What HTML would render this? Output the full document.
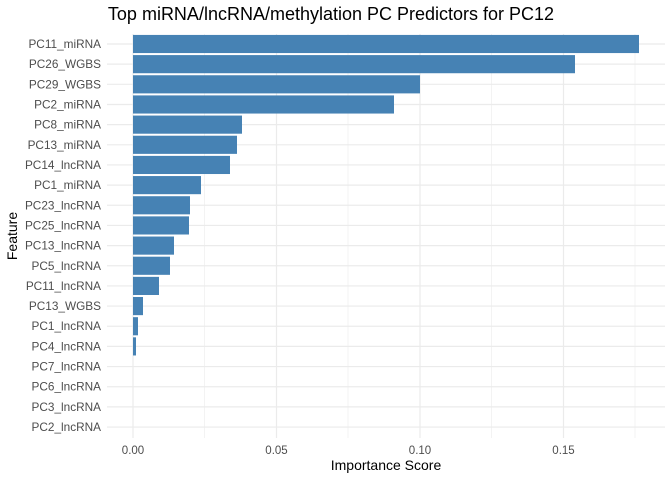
<!DOCTYPE html>
<html><head><meta charset="utf-8"><style>body{margin:0;background:#fff}svg{display:block}</style></head><body>
<svg width="672" height="480" xmlns="http://www.w3.org/2000/svg" font-family="Liberation Sans, sans-serif">
<rect width="672" height="480" fill="#fff"/>
<g stroke="#ebebeb">
<line x1="204.5" y1="34" x2="204.5" y2="438" stroke-width="0.6"/>
<line x1="348" y1="34" x2="348" y2="438" stroke-width="0.6"/>
<line x1="491.5" y1="34" x2="491.5" y2="438" stroke-width="0.6"/>
<line x1="635" y1="34" x2="635" y2="438" stroke-width="0.6"/>
<line x1="133" y1="34" x2="133" y2="438" stroke-width="1.2"/>
<line x1="276.5" y1="34" x2="276.5" y2="438" stroke-width="1.2"/>
<line x1="420" y1="34" x2="420" y2="438" stroke-width="1.2"/>
<line x1="563.5" y1="34" x2="563.5" y2="438" stroke-width="1.2"/>
</g>
<g id="rows" stroke="#ebebeb" stroke-width="1.2"></g>
<g id="bars" fill="#4682b4"></g>
<g id="labels" font-size="11.8" fill="#4d4d4d" text-anchor="end"></g>
<g font-size="11.5" fill="#4d4d4d" text-anchor="middle">
<text x="133" y="454">0.00</text><text x="276.5" y="454">0.05</text><text x="420" y="454">0.10</text><text x="563.5" y="454">0.15</text>
</g>
<text x="386" y="470" font-size="14" text-anchor="middle" fill="#000">Importance Score</text>
<text x="17" y="236" font-size="14" text-anchor="middle" fill="#000" transform="rotate(-90 17 236)">Feature</text>
<text x="331" y="20" font-size="18" text-anchor="middle" fill="#000">Top miRNA/lncRNA/methylation PC Predictors for PC12</text>
<script>
var d=[["PC11_miRNA",639],["PC26_WGBS",575],["PC29_WGBS",420],["PC2_miRNA",394],["PC8_miRNA",242],["PC13_miRNA",237],["PC14_lncRNA",230],["PC1_miRNA",201],["PC23_lncRNA",190],["PC25_lncRNA",189],["PC13_lncRNA",174],["PC5_lncRNA",170],["PC11_lncRNA",159],["PC13_WGBS",143],["PC1_lncRNA",138],["PC4_lncRNA",136],["PC7_lncRNA",133],["PC6_lncRNA",133],["PC3_lncRNA",133],["PC2_lncRNA",133]];
var ns="http://www.w3.org/2000/svg",R=document.getElementById("rows"),B=document.getElementById("bars"),L=document.getElementById("labels");
d.forEach(function(e,i){var y=44+i*20.16;
var l=document.createElementNS(ns,"line");l.setAttribute("x1",107);l.setAttribute("x2",665);l.setAttribute("y1",y);l.setAttribute("y2",y);R.appendChild(l);
if(e[1]>133){var r=document.createElementNS(ns,"rect");r.setAttribute("x",133);r.setAttribute("y",y-9.07);r.setAttribute("width",e[1]-133);r.setAttribute("height",18.14);B.appendChild(r);}
var t=document.createElementNS(ns,"text");t.setAttribute("x",101);t.setAttribute("y",y+4);t.textContent=e[0];L.appendChild(t);});
</script>
</svg>
</body></html>
